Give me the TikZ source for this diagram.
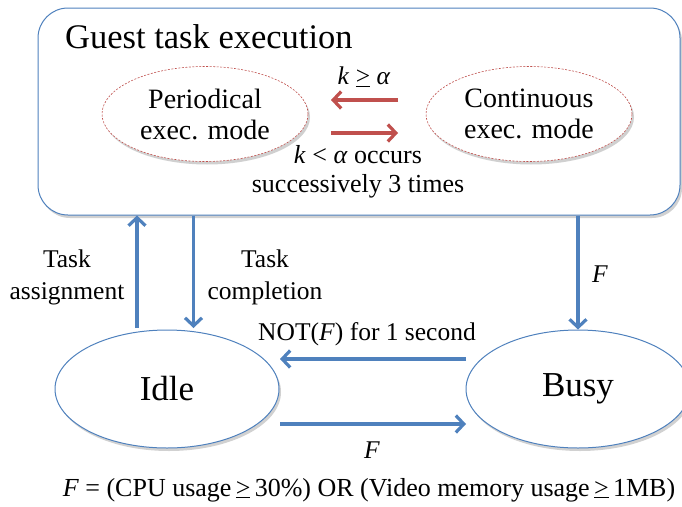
\documentclass[tikz,border=0pt]{standalone}
\usepackage{fontspec}
\setmainfont{Liberation Serif}
\usetikzlibrary{arrows.meta,shapes.geometric,shadows}
\definecolor{stateblue}{HTML}{4F81BD}
\definecolor{modered}{HTML}{C0504D}
\tikzset{
  softshadow/.style={drop shadow={shadow xshift=2pt,shadow yshift=-3pt,opacity=0.3,fill=black!60}},
  statenode/.style={ellipse,draw=stateblue,line width=1pt,fill=white,softshadow,
    minimum width=224pt,minimum height=118pt,inner sep=0pt,font=\fontsize{35}{40}\selectfont},
  modenode/.style={ellipse,draw=modered,dashed,dash pattern=on 2pt off 1.5pt,line width=0.6pt,fill=white,softshadow,
    minimum width=206pt,minimum height=95pt,inner sep=0pt,align=center,font=\fontsize{28}{31}\selectfont},
  bluearrow/.style={draw=stateblue,line width=3.2pt,-{Straight Barb[length=8pt,width=17pt,line width=3.2pt]}},
  redarrow/.style={draw=modered,line width=3.2pt,-{Straight Barb[length=8pt,width=17pt,line width=3.2pt]}},
  lbl/.style={align=center,inner sep=0pt,font=\fontsize{25.5}{32}\selectfont},
}
\begin{document}
\begin{tikzpicture}[x=1pt,y=-1pt]
\useasboundingbox (0,0) rectangle (682,506);
% outer box for guest task execution
\node[draw=stateblue,line width=1pt,fill=white,rounded corners=30pt,softshadow,
  minimum width=642pt,minimum height=207pt,inner sep=0pt] (guest) at (359,111.5) {};
\node[anchor=west,inner sep=0pt,font=\fontsize{34.5}{38}\selectfont] (title) at (65,37) {Guest task execution};
% execution modes
\node[modenode] (per) at (205,114) {Periodical\\exec. mode};
\node[modenode] (con) at (529,114) {Continuous\\exec. mode};
\coordinate (ra1) at (398,100);
\coordinate (ra2) at (331,100);
\coordinate (rb1) at (331,133);
\coordinate (rb2) at (398,133);
\draw[redarrow] (ra1) -- (ra2);
\draw[redarrow] (rb1) -- (rb2);
\node[lbl] (kge) at (364,77) {\textit{k} \underline{>} \textit{α}};
\node[lbl,font=\fontsize{26}{29}\selectfont] (klt) at (358,172) {\textit{k} < \textit{α} occurs\\successively 3 times};
% states
\node[statenode] (idle) at (167,389) {Idle};
\node[statenode] (busy) at (578,389) {Busy};
% vertical transitions
\coordinate (ta0) at (137,328);
\coordinate (tc0) at (193.5,328);
\draw[bluearrow] (ta0) -- (ta0 |- guest.south);
\draw[bluearrow] (tc0 |- guest.south) -- (tc0);
\draw[bluearrow] (busy.north |- guest.south) -- (busy.north);
% horizontal transitions
\coordinate (n1) at (466,359);
\coordinate (n2) at (280,359);
\coordinate (f1) at (280,424);
\coordinate (f2) at (466,424);
\draw[bluearrow] (n1) -- (n2);
\draw[bluearrow] (f1) -- (f2);
% labels
\node[lbl] (tasg) at (67,277) {Task\\assignment};
\node[lbl] (tcmp) at (265,277) {Task\\completion};
\node[lbl] (fdown) at (600,274) {\textit{F}};
\node[lbl] (notf) at (367,334) {NOT(\textit{F}) for 1 second};
\node[lbl] (fright) at (372,450) {\textit{F}};
\node[lbl,font=\fontsize{26}{30}\selectfont] (def) at (369,490) {\textit{F} = (CPU usage\,\underline{>}\,30\%) OR (Video memory usage\,\underline{>}\,1MB)};
\end{tikzpicture}
\end{document}
